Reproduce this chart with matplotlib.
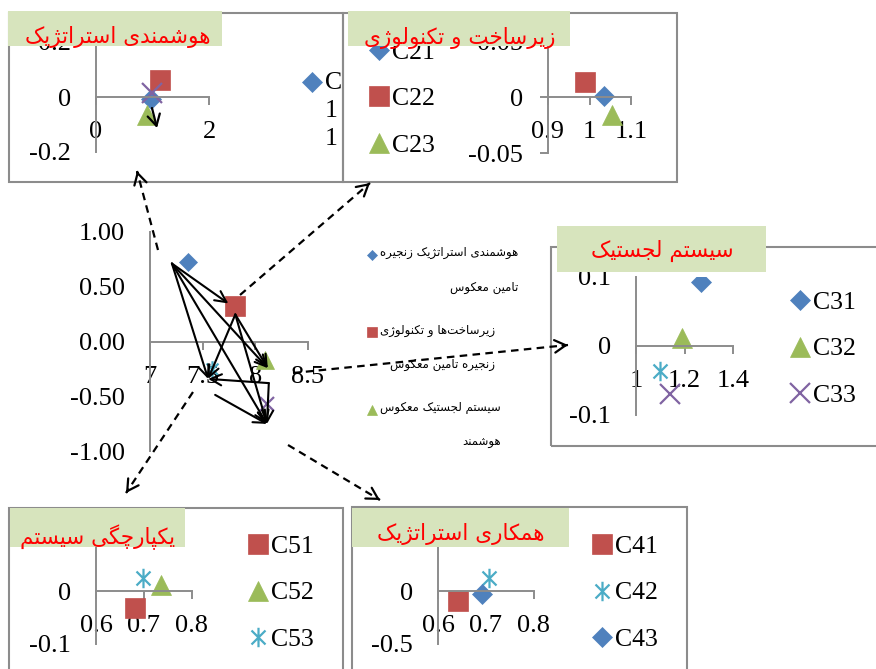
import matplotlib
matplotlib.use("Agg")
import matplotlib.pyplot as plt
from matplotlib.patches import Rectangle, FancyArrowPatch
from matplotlib.lines import Line2D
from matplotlib.path import Path
from matplotlib.legend_handler import HandlerLine2D
from matplotlib.ticker import FormatStrFormatter
from matplotlib.transforms import offset_copy

plt.rcParams["font.family"] = ["Liberation Serif", "DejaVu Sans"]

W, H = 876, 669

# ---------------------------------------------------------------- data
factor_names = [
    "هوشمندی استراتژیک زنجیره\nتامین معکوس",
    "زیرساخت‌ها و تکنولوژی\nزنجیره تامین معکوس",
    "سیستم لجستیک معکوس\nهوشمند",
    "همکاری استراتژیک",
    "یکپارچگی سیستم",
]
factor_x = [7.36, 7.81, 8.09, 8.11, 7.59]
factor_y = [0.73, 0.32, -0.17, -0.57, -0.25]
factor_kind = ["blue", "red", "green", "purple", "aqua"]
# order of influence: every factor points at all factors after it
factor_chain = [0, 1, 2, 4, 3]

sub_titles = [
    "هوشمندی استراتژیک",
    "زیرساخت و تکنولوژی",
    "سیستم لجستیک",
    "همکاری استراتژیک",
    "یکپارچگی سیستم",
]

c1_names = ["C11", "C12", "C13", "C14"]
c1_x = [0.97, 1.13, 0.90, 0.99]
c1_y = [-0.007, 0.062, -0.066, 0.015]
c1_kind = ["blue", "red", "green", "purple"]

c2_names = ["C21", "C22", "C23"]
c2_x = [1.034, 0.988, 1.055]
c2_y = [0.001, 0.013, -0.016]
c2_kind = ["blue", "red", "green"]

c3_names = ["C31", "C32", "C33", "C34"]
c3_x = [1.268, 1.19, 1.14, 1.099]
c3_y = [0.0925, 0.012, -0.069, -0.036]
c3_kind = ["blue", "green", "purple", "aqua"]

c4_names = ["C41", "C42", "C43"]
c4_x = [0.642, 0.706, 0.692]
c4_y = [-0.094, 0.123, -0.028]
c4_kind = ["red", "aqua", "blue"]

c5_names = ["C51", "C52", "C53"]
c5_x = [0.681, 0.735, 0.698]
c5_y = [-0.033, 0.011, 0.024]
c5_kind = ["red", "green", "aqua"]

# ---------------------------------------------------------------- persian shaping
FORMS = {  # isolated, final, initial, medial
    "ا": ("\ufe8d", "\ufe8e"),
    "ب": ("\ufe8f", "\ufe90", "\ufe91", "\ufe92"),
    "پ": ("\ufb56", "\ufb57", "\ufb58", "\ufb59"),
    "ت": ("\ufe95", "\ufe96", "\ufe97", "\ufe98"),
    "ج": ("\ufe9d", "\ufe9e", "\ufe9f", "\ufea0"),
    "چ": ("\ufb7a", "\ufb7b", "\ufb7c", "\ufb7d"),
    "خ": ("\ufea5", "\ufea6", "\ufea7", "\ufea8"),
    "د": ("\ufea9", "\ufeaa"),
    "ر": ("\ufead", "\ufeae"),
    "ز": ("\ufeaf", "\ufeb0"),
    "ژ": ("\ufb8a", "\ufb8b"),
    "س": ("\ufeb1", "\ufeb2", "\ufeb3", "\ufeb4"),
    "ش": ("\ufeb5", "\ufeb6", "\ufeb7", "\ufeb8"),
    "ع": ("\ufec9", "\ufeca", "\ufecb", "\ufecc"),
    "ک": ("\ufb8e", "\ufb8f", "\ufb90", "\ufb91"),
    "گ": ("\ufb92", "\ufb93", "\ufb94", "\ufb95"),
    "ل": ("\ufedd", "\ufede", "\ufedf", "\ufee0"),
    "م": ("\ufee1", "\ufee2", "\ufee3", "\ufee4"),
    "ن": ("\ufee5", "\ufee6", "\ufee7", "\ufee8"),
    "ه": ("\ufee9", "\ufeea", "\ufeeb", "\ufeec"),
    "و": ("\ufeed", "\ufeee"),
    "ی": ("\ufbfc", "\ufbfd", "\ufbfe", "\ufbff"),
}


def shape_line(text):
    out = []
    for i, ch in enumerate(text):
        forms = FORMS.get(ch)
        if forms is None:
            if ch != "\u200c":
                out.append(ch)
            continue
        prev = text[i - 1] if i > 0 else ""
        nxt = text[i + 1] if i + 1 < len(text) else ""
        join_prev = len(FORMS.get(prev, ())) == 4
        join_next = len(forms) == 4 and nxt in FORMS
        if join_prev and join_next:
            out.append(forms[3])
        elif join_prev:
            out.append(forms[1])
        elif join_next:
            out.append(forms[2])
        else:
            out.append(forms[0])
    return "".join(reversed(out))


def fa(text):
    return "\n".join(shape_line(t) for t in text.split("\n"))


# ---------------------------------------------------------------- styles
STAR = Path([(0, -1), (0, 1), (-0.72, -0.72), (0.72, 0.72), (-0.72, 0.72), (0.72, -0.72)],
            [Path.MOVETO, Path.LINETO] * 3)
KIND = {
    "blue": dict(marker="D", color="#4F81BD", markersize=10.5, markeredgewidth=0.5),
    "red": dict(marker="s", color="#C0504D", markersize=14.5, markeredgewidth=0.5),
    "green": dict(marker="^", color="#9BBB59", markersize=14.5, markeredgewidth=0.5),
    "purple": dict(marker="x", color="#8064A2", markersize=14, markeredgewidth=1.6),
    "aqua": dict(marker=STAR, color="#4BACC6", markersize=14, markeredgewidth=1.6),
}
AXIS_GRAY = "#8C8C8C"
BANNER = "#D7E4BD"
FA_FONT = "DejaVu Sans"


class RaisedMarker(HandlerLine2D):
    """Legend key drawn level with the first line of a wrapped label."""

    def __init__(self, lift, **kw):
        super().__init__(**kw)
        self.lift = lift

    def create_artists(self, legend, orig_handle, xdescent, ydescent,
                       width, height, fontsize, trans):
        return super().create_artists(legend, orig_handle, xdescent,
                                      ydescent - 2 * self.lift, width, height,
                                      fontsize, trans)


fig = plt.figure(figsize=(W / 100, H / 100), dpi=100)


def fx(x):
    return x / W


def fy(y):
    return 1 - y / H


def px_rect(x0, y0, x1, y1):
    return [fx(x0), fy(y1), (x1 - x0) / W, (y1 - y0) / H]


def make_axes(rect, xlim, ylim, xticks, yticks, yfmt="%g", ytick_len=0.0):
    ax = fig.add_axes(px_rect(*rect))
    ax.patch.set_visible(False)
    ax.set_xlim(xlim)
    ax.set_ylim(ylim)
    for s in ("top", "right"):
        ax.spines[s].set_visible(False)
    ax.spines["bottom"].set_position(("data", 0))
    for s in ("left", "bottom"):
        ax.spines[s].set_color(AXIS_GRAY)
        ax.spines[s].set_linewidth(1.4)
    ax.set_xticks(xticks)
    ax.set_yticks(yticks)
    ax.xaxis.set_major_formatter(FormatStrFormatter("%g"))
    ax.yaxis.set_major_formatter(FormatStrFormatter(yfmt))
    ax.tick_params(axis="x", direction="out", length=5.5, width=1.4,
                   color=AXIS_GRAY, pad=12, labelsize=19)
    ax.tick_params(axis="y", direction="out", length=ytick_len, width=1.4,
                   color=AXIS_GRAY, pad=18 - ytick_len, labelsize=19)
    return ax


def plot_points(ax, xs, ys, kinds, names, scale=1.0):
    handles = []
    for x, y, k, n in zip(xs, ys, kinds, names):
        st = dict(KIND[k])
        st["markersize"] *= scale
        h, = ax.plot([x], [y], linestyle="none", label=n, **st)
        handles.append(h)
    return handles


def frame(x0, y0, x1, y1):
    fig.add_artist(Rectangle((fx(x0), fy(y1)), (x1 - x0) / W, (y1 - y0) / H,
                             transform=fig.transFigure, fill=False,
                             ec=AXIS_GRAY, lw=1.5, zorder=-1))


def banner(x0, y0, x1, y1, text, cx, cy):
    fig.add_artist(Rectangle((fx(x0), fy(y1)), (x1 - x0) / W, (y1 - y0) / H,
                             transform=fig.transFigure, fc=BANNER, ec="none",
                             zorder=3))
    fig.text(fx(cx), fy(cy), fa(text), color="red", fontsize=15.5, family=FA_FONT,
             ha="center", va="center", zorder=4)


def sub_legend(ax, handles, labels, mx, my, lift=None, spacing=1.32):
    hm = {h: RaisedMarker(lift) for h in handles} if lift else None
    leg = ax.legend(handles, labels, loc="center left",
                    bbox_to_anchor=(fx(mx - 9), fy(my)),
                    bbox_transform=fig.transFigure, frameon=False,
                    prop={"family": "Liberation Serif", "size": 18.5},
                    handlelength=0.7, handletextpad=0.15, labelspacing=0.9,
                    borderpad=0, borderaxespad=0, numpoints=1, handler_map=hm)
    for t in leg.get_texts():
        t.set_linespacing(spacing)
    return leg


# ---------------------------------------------------------------- main chart
ax = make_axes((150, 232, 308, 451), (7, 8.5), (-1, 1),
               [7, 7.5, 8, 8.5], [-1, -0.5, 0, 0.5, 1], yfmt="%.2f")
main_scale = [0.88, 0.97, 0.9, 0.75, 0.85]
main_handles = []
for i in range(len(factor_x)):
    main_handles += plot_points(ax, [factor_x[i]], [factor_y[i]], [factor_kind[i]],
                                [fa(factor_names[i])], scale=main_scale[i])

leg = ax.legend(main_handles[:3], [fa(n) for n in factor_names[:3]],
                loc="upper left", bbox_to_anchor=(fx(368.5), fy(246)),
                bbox_transform=fig.transFigure, frameon=False,
                prop={"family": FA_FONT, "size": 8.5}, markerscale=0.5,
                handlelength=0.55, handletextpad=0.45, labelspacing=2.55,
                borderpad=0, borderaxespad=0, numpoints=1,
                handler_map={h: RaisedMarker(11.5) for h in main_handles[:3]})
for t in leg.get_texts():
    t.set_multialignment("right")
    t.set_linespacing(3.15)

# arrow anchors around each factor marker (pixels, y downwards)
arrow_start = {0: (-16, 2), 1: (0, 8), 2: (4, 23), 4: (3, 26)}
arrow_end = {1: (-7, -3), 2: (3, 8), 4: (-4, 10), 3: (0, 20)}
for a in range(len(factor_chain)):
    for b in range(a + 1, len(factor_chain)):
        s, e = factor_chain[a], factor_chain[b]
        sdx, sdy = arrow_start[s]
        edx, edy = arrow_end[e]
        ax.annotate("", xy=(factor_x[e], factor_y[e]),
                    xycoords=offset_copy(ax.transData, fig=fig, x=edx, y=-edy, units="dots"),
                    xytext=(factor_x[s], factor_y[s]),
                    textcoords=offset_copy(ax.transData, fig=fig, x=sdx, y=-sdy, units="dots"),
                    arrowprops=dict(arrowstyle="->,head_length=0.8,head_width=0.4",
                                    color="black", lw=1.5, shrinkA=0, shrinkB=0))

# ---------------------------------------------------------------- small charts
frame(9, 13, 343, 182)
a1 = make_axes((96, 42, 209, 152), (0, 2), (-0.2, 0.2), [0, 2], [-0.2, 0, 0.2])
h1 = plot_points(a1, c1_x, c1_y, c1_kind, c1_names)
sub_legend(a1, h1[:1], ["\n".join(c1_names[0])], 312, 111, lift=20.3, spacing=1.37)
banner(8, 11, 222, 46, sub_titles[0], 118, 37)

frame(343, 13, 677, 182)
a2 = make_axes((548, 41, 631, 153), (0.9, 1.1), (-0.05, 0.05), [0.9, 1, 1.1],
               [-0.05, 0, 0.05], ytick_len=5.5)
h2 = plot_points(a2, c2_x, c2_y, c2_kind, c2_names)
sub_legend(a2, h2, c2_names, 379, 99)
banner(348, 11, 570, 46, sub_titles[1], 460, 38)

frame(551, 247, 890, 446)
a3 = make_axes((636, 277, 733, 415), (1, 1.4), (-0.1, 0.1), [1, 1.2, 1.4], [-0.1, 0, 0.1])
h3 = plot_points(a3, c3_x, c3_y, c3_kind, c3_names)
sub_legend(a3, h3[:3], c3_names[:3], 800, 349)
banner(557, 226, 766, 272, sub_titles[2], 662, 251)

frame(352, 507, 687, 690)
a4 = make_axes((438, 538, 534, 644), (0.6, 0.8), (-0.5, 0.5), [0.6, 0.7, 0.8], [-0.5, 0])
h4 = plot_points(a4, c4_x, c4_y, c4_kind, c4_names)
sub_legend(a4, h4, c4_names, 602, 593)
banner(352, 508, 569, 547, sub_titles[3], 461, 534)

frame(9, 508, 343, 690)
a5 = make_axes((96, 538, 192, 644), (0.6, 0.8), (-0.1, 0.1), [0.6, 0.7, 0.8], [-0.1, 0])
h5 = plot_points(a5, c5_x, c5_y, c5_kind, c5_names)
sub_legend(a5, h5, c5_names, 258, 593)
banner(10, 508, 185, 547, sub_titles[4], 98, 537)

# ---------------------------------------------------------------- connectors
links = [
    ((158, 250), (137, 171)),
    ((240, 295), (370, 183)),
    ((293, 373), (568, 345)),
    ((193, 392), (126, 493)),
    ((288, 445), (380, 500)),
]
for (x0, y0), (x1, y1) in links:
    fig.add_artist(Line2D([fx(x0), fx(x1)], [fy(y0), fy(y1)], transform=fig.transFigure,
                          color="black", lw=1.6, linestyle=(0, (3.4, 2.4)), zorder=6))
    tx = x1 - (x1 - x0) * 0.02
    ty = y1 - (y1 - y0) * 0.02
    fig.add_artist(FancyArrowPatch((fx(tx), fy(ty)), (fx(x1), fy(y1)),
                                   transform=fig.transFigure,
                                   arrowstyle="->,head_length=8,head_width=4.5",
                                   color="black", lw=1.6, shrinkA=0, shrinkB=0,
                                   zorder=6))

fig.add_artist(FancyArrowPatch((fx(152), fy(108)), (fx(157), fy(128)),
                               transform=fig.transFigure,
                               arrowstyle="->,head_length=8,head_width=4.5",
                               color="black", lw=1.6, shrinkA=0, shrinkB=0, zorder=6))

fig.savefig("out.png", dpi=100)
